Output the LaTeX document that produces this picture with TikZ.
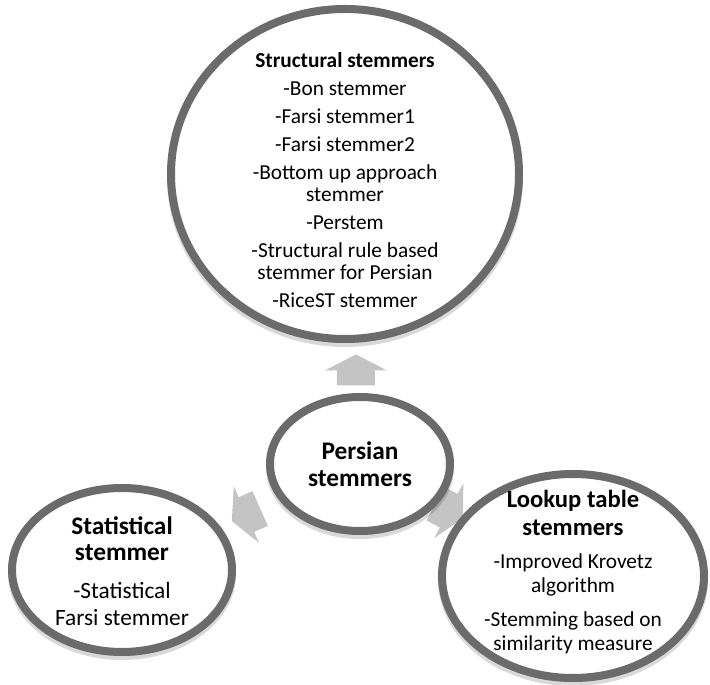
\documentclass[tikz,border=0pt]{standalone}
\usepackage{fontspec}
\setmainfont{Carlito}
\usepackage{tikz}
\usetikzlibrary{shapes.geometric,shadows,calc,backgrounds}
\usepackage{xcolor}

\definecolor{ringgray}{HTML}{6B6B6B}
\definecolor{arrowgray}{HTML}{C4C4C4}
\newcommand{\ringhead}[2][19]{{\bfseries\fontsize{#1}{#1}\selectfont #2}}

\tikzset{
  stemring/.style={ellipse, draw=ringgray, line width=6pt, fill=white, inner sep=0pt,
    drop shadow={shadow xshift=0pt, shadow yshift=-3pt, opacity=0.15, fill=black, draw=black, line width=6pt}},
  ringtext/.style={align=center, inner sep=0pt, text=black},
  fatarrow/.pic={\fill[arrowgray] (0,-19) -- (15,-19) -- (15,-31) -- (31,0) -- (15,31) -- (15,19) -- (0,19) -- cycle;}
}

\begin{document}
\begin{tikzpicture}[x=0.75pt, y=0.75pt]
\useasboundingbox (0,0) rectangle (710,685);
% the four rings
\node(structural) at (345, 511) [stemring, minimum width=261pt, minimum height=247.5pt] {};
\node(persian) at (360, 221) [stemring, minimum width=135pt, minimum height=100.5pt] {};
\node(statistical) at (122, 115) [stemring, minimum width=165pt, minimum height=123pt] {};
\node(lookup) at (573, 109) [stemring, minimum width=196.5pt, minimum height=153pt] {};
% block arrows, behind the rings
\begin{pgfonlayer}{background}
\pic[rotate=90] at ($(persian)!59pt!(structural)$) {fatarrow};
\pic[rotate=204] at ($(persian)!82pt!(statistical)$) {fatarrow};
\pic[rotate=-28] at ($(persian)!64pt!(lookup)$) {fatarrow};
\end{pgfonlayer}
% texts
\node(structural-text) at ([yshift=-4.5pt]structural.center) [ringtext, font=\fontsize{16}{16.5}\selectfont] {%
  \textbf{Structural stemmers}\\[4.5pt]
  -Bon stemmer\\[4.5pt]
  -Farsi stemmer1\\[4.5pt]
  -Farsi stemmer2\\[4.5pt]
  -Bottom up approach\\
  stemmer\\[4.5pt]
  -Perstem\\[4.5pt]
  -Structural rule based\\
  stemmer for Persian\\[4.5pt]
  -RiceST stemmer};
\node(persian-text) at (persian.center) [ringtext, font=\bfseries\fontsize{19}{20}\selectfont] {Persian\\stemmers};
\node(statistical-text) at ([yshift=-0.75pt]statistical.center) [ringtext, font=\fontsize{17.5}{20}\selectfont] {%
  \ringhead{Statistical}\\
  \ringhead{stemmer}\\[8.5pt]
  -Statistical\\
  Farsi stemmer};
\node(lookup-text) at ([yshift=3pt]lookup.center) [ringtext, font=\fontsize{16}{18}\selectfont] {%
  \ringhead[18.5]{Lookup table}\\[3pt]
  \ringhead[18.5]{stemmers}\\[7pt]
  -Improved Krovetz\\
  algorithm\\[7.5pt]
  -Stemming based on\\
  similarity measure};
\end{tikzpicture}
\end{document}
